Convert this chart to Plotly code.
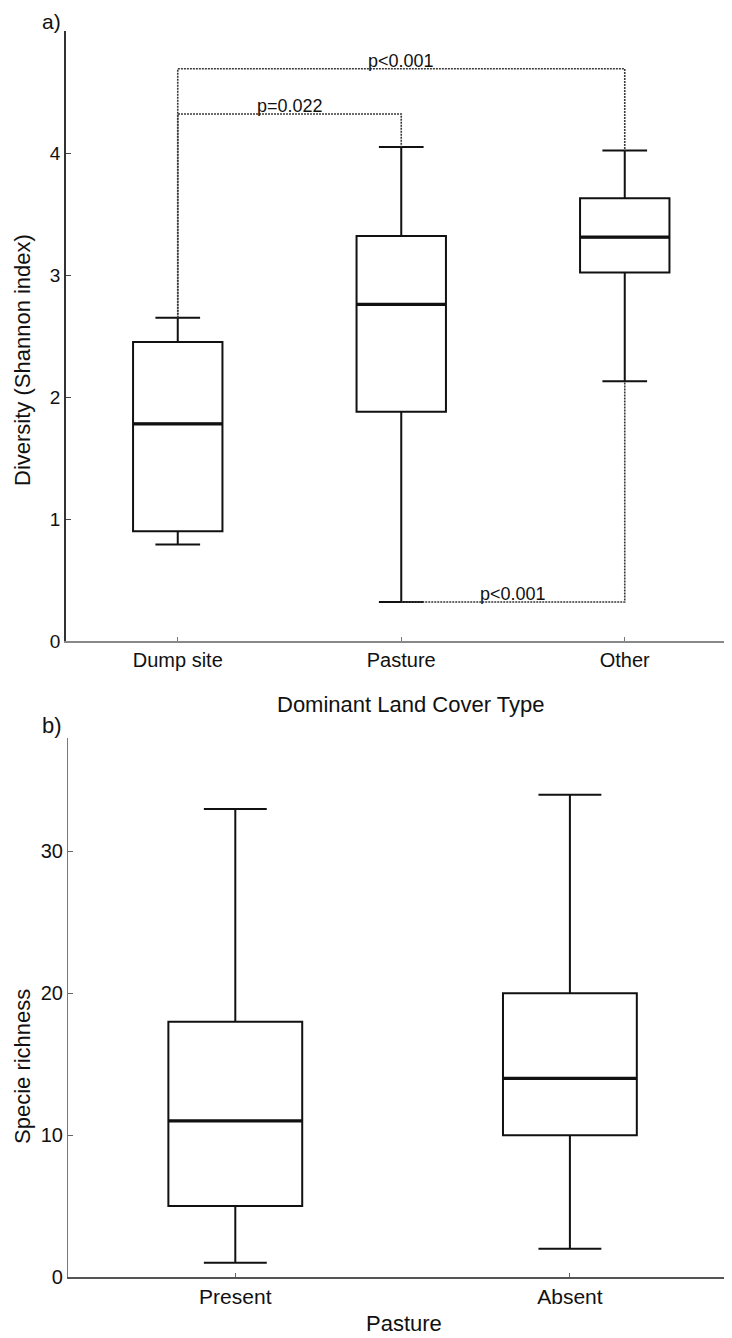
import plotly.graph_objects as go

# ---------------- data ----------------
# Panel a: Diversity (Shannon index) by dominant land cover type
cover_types = ["Dump site", "Pasture", "Other"]
div_low = [0.79, 0.32, 2.13]
div_q1 = [0.90, 1.88, 3.02]
div_median = [1.78, 2.76, 3.31]
div_q3 = [2.45, 3.32, 3.63]
div_high = [2.65, 4.05, 4.02]
div_ticks = [0, 1, 2, 3, 4]

# significance brackets (indices into cover_types)
sig_from = [0, 0, 1]
sig_to = [1, 2, 2]
sig_level = [4.32, 4.69, 0.32]
sig_labels = ["p=0.022", "p<0.001", "p<0.001"]

# Panel b: species richness by pasture presence
pasture_groups = ["Present", "Absent"]
rich_low = [1, 2]
rich_q1 = [5, 10]
rich_median = [11, 14]
rich_q3 = [18, 20]
rich_high = [33, 34]
rich_ticks = [0, 10, 20, 30]

# ---------------- layout helpers ----------------
PAGE_W, PAGE_H = 732, 1338
OFF = 8                      # default body margin of the html page
W, H = PAGE_W - OFF, PAGE_H - OFF
FONT = "Liberation Sans, Arial, Helvetica, sans-serif"
BOX_W = 0.4


def px(x):
    return (x - OFF) / W


def py(y):
    return 1 - (y - OFF) / H


fig = go.Figure()

# significance brackets (drawn first, behind the boxes)
for a, b, lvl, lab in zip(sig_from, sig_to, sig_level, sig_labels):
    above = lvl > div_median[a]
    ya = div_high[a] if above else div_low[a]
    yb = div_high[b] if above else div_low[b]
    fig.add_trace(go.Scatter(
        x=[a, a, b, b], y=[ya, lvl, lvl, yb], mode="lines",
        line=dict(color="#3a3a3a", width=1.6, dash="2px,1px"),
        xaxis="x", yaxis="y", showlegend=False, hoverinfo="skip"))
    fig.add_annotation(
        x=(a + b) / 2, y=lvl, xref="x", yref="y", text=lab,
        showarrow=False, xanchor="center", yanchor="bottom", yshift=-4,
        font=dict(family=FONT, size=18, color="#111111"))

# panel a boxes
fig.add_trace(go.Box(
    x=list(range(len(cover_types))), q1=div_q1, median=div_median, q3=div_q3,
    lowerfence=div_low, upperfence=div_high, width=BOX_W, whiskerwidth=0.5,
    fillcolor="white", line=dict(color="#111111", width=2),
    boxpoints=False, xaxis="x", yaxis="y", showlegend=False))

mx, my = [], []
for i, m in enumerate(div_median):
    mx += [i - BOX_W / 2, i + BOX_W / 2, None]
    my += [m, m, None]
fig.add_trace(go.Scatter(x=mx, y=my, mode="lines",
                         line=dict(color="#111111", width=3.2),
                         xaxis="x", yaxis="y", showlegend=False, hoverinfo="skip"))

# panel b boxes
fig.add_trace(go.Box(
    x=list(range(len(pasture_groups))), q1=rich_q1, median=rich_median, q3=rich_q3,
    lowerfence=rich_low, upperfence=rich_high, width=BOX_W, whiskerwidth=0.47,
    fillcolor="white", line=dict(color="#111111", width=2),
    boxpoints=False, xaxis="x2", yaxis="y2", showlegend=False))

mx, my = [], []
for i, m in enumerate(rich_median):
    mx += [i - BOX_W / 2, i + BOX_W / 2, None]
    my += [m, m, None]
fig.add_trace(go.Scatter(x=mx, y=my, mode="lines",
                         line=dict(color="#111111", width=3.2),
                         xaxis="x2", yaxis="y2", showlegend=False, hoverinfo="skip"))

tickfont = dict(family=FONT, size=20, color="#111111")

fig.update_layout(
    width=W, height=H,
    margin=dict(l=0, r=0, t=0, b=0, autoexpand=False),
    paper_bgcolor="white", plot_bgcolor="white",
    font=dict(family=FONT, color="#111111"),
    xaxis=dict(domain=[px(66), 1], range=[-0.5, -0.5 + (PAGE_W - 66) / 223.5],
               tickvals=list(range(len(cover_types))), ticktext=cover_types,
               ticks="inside", ticklen=4, tickcolor="#777777",
               showline=True, linecolor="#888888", linewidth=2,
               showgrid=False, zeroline=False, tickfont=tickfont,
               anchor="y", automargin=False),
    yaxis=dict(domain=[py(641), py(31)], range=[0, 5],
               tickvals=div_ticks, ticks="inside", ticklen=5, tickcolor="#444444",
               showline=True, linecolor="#333333", linewidth=1.6,
               showgrid=False, zeroline=False,
               tickfont=dict(family=FONT, size=19, color="#111111"),
               anchor="x", automargin=False),
    xaxis2=dict(domain=[px(68), 1], range=[-0.5, -0.5 + (PAGE_W - 68) / 334.6],
                tickvals=list(range(len(pasture_groups))), ticktext=pasture_groups,
                ticks="inside", ticklen=4, tickcolor="#666666",
                showline=True, linecolor="#555555", linewidth=1.6,
                showgrid=False, zeroline=False,
                tickfont=dict(family=FONT, size=21, color="#111111"),
                anchor="y2", automargin=False),
    yaxis2=dict(domain=[py(1277), py(738)], range=[0, 38],
                tickvals=rich_ticks, ticks="inside", ticklen=5, tickcolor="#666666",
                showline=True, linecolor="#777777", linewidth=1.2,
                showgrid=False, zeroline=False,
                tickfont=dict(family=FONT, size=20, color="#111111"),
                anchor="x2", automargin=False),
)


def label(x, y, text, size=22, angle=0, yanchor="middle"):
    fig.add_annotation(x=px(x), y=py(y), xref="paper", yref="paper",
                       text=text, textangle=angle, showarrow=False,
                       xanchor="center", yanchor=yanchor,
                       font=dict(family=FONT, size=size, color="#111111"))


label(22, 360, "Diversity (Shannon index)", angle=-90)
label(410, 704, "Dominant Land Cover Type")
label(22, 1067, "Specie richness", angle=-90)
label(404, 1323, "Pasture")
label(51, 8, "a)", size=21, yanchor="top")
label(52, 725, "b)", size=22)

fig.write_html("out.html")
